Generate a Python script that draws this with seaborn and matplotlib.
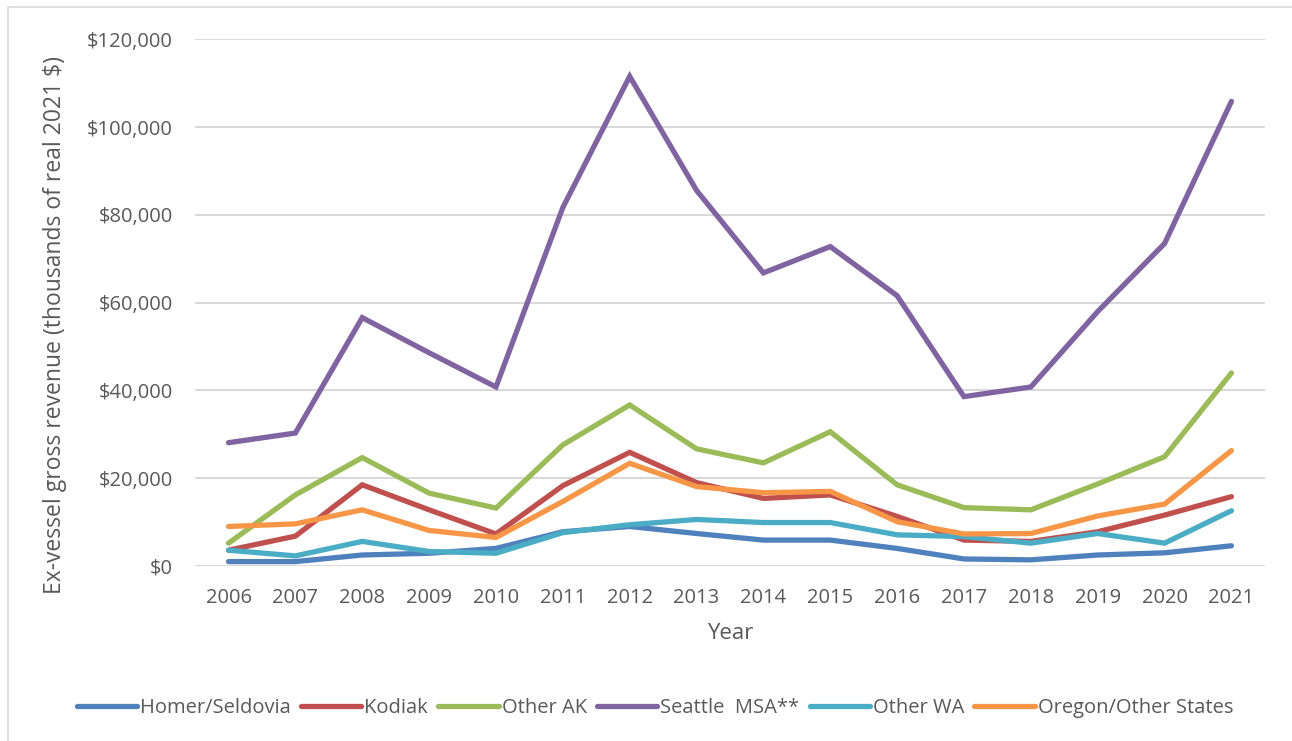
import numpy as np
import pandas as pd
import seaborn as sns
from matplotlib import pyplot as plt
from matplotlib.ticker import FuncFormatter
from matplotlib.patches import Rectangle

## values (thousands of real 2021 $)
years = list(range(2006, 2022))
homer = [1.0, 1.0, 2.5, 2.9, 4.0, 7.8, 9.0, 7.4, 5.9, 5.9, 4.0, 1.6, 1.4, 2.5, 3.0, 4.6]
kodiak = [3.6, 6.8, 18.5, 12.8, 7.3, 18.3, 25.9, 19.0, 15.4, 16.2, 11.3, 5.9, 5.6, 7.8, 11.6, 15.8]
other_ak = [5.2, 16.2, 24.7, 16.6, 13.2, 27.6, 36.7, 26.7, 23.5, 30.6, 18.5, 13.3, 12.8, 18.7, 24.9, 44.0]
seattle = [28.1, 30.3, 56.6, 48.6, 40.8, 81.7, 111.6, 85.6, 66.8, 72.8, 61.6, 38.6, 40.8, 58.0, 73.5, 105.9]
other_wa = [3.6, 2.3, 5.6, 3.3, 2.9, 7.6, 9.4, 10.6, 9.9, 9.9, 7.1, 6.7, 5.2, 7.4, 5.2, 12.6]
oregon = [9.0, 9.6, 12.8, 8.1, 6.5, 14.7, 23.4, 18.1, 16.7, 17.0, 10.1, 7.3, 7.4, 11.4, 14.1, 26.3]

series = ['Homer/Seldovia', 'Kodiak', 'Other AK', 'Seattle  MSA**', 'Other WA', 'Oregon/Other States']
colors = ['#4F81BD', '#C0504D', '#9BBB59', '#8064A2', '#4BACC6', '#F79646']

rows = []
for name, vals in zip(series, [homer, kodiak, other_ak, seattle, other_wa, oregon]):
    for y, v in zip(years, vals):
        rows.append({'Year': y, 'value': v * 1000, 'series': name})
df = pd.DataFrame(rows)

sns.set_style("white")
plt.rcParams['font.family'] = ['Open Sans', 'DejaVu Sans']

fig = plt.figure(figsize=(12.92, 7.41), dpi=100)
ax = fig.add_axes([0.151, 0.2362, 0.828, 0.7105])

sns.lineplot(data=df, x='Year', y='value', hue='series', hue_order=series,
             palette=colors, linewidth=3.8, ax=ax, legend=False,
             solid_capstyle='round', solid_joinstyle='miter')

ax.set_xlim(2005.5, 2021.5)
ax.set_ylim(0, 120000)
ax.set_yticks(np.arange(0, 120001, 20000))
ax.set_xticks(years)
ax.yaxis.set_major_formatter(FuncFormatter(lambda v, p: '${:,.0f}'.format(v)))
ax.grid(axis='y', color='#d9d9d9', linewidth=1.5)
ax.set_axisbelow(True)
for s in ax.spines.values():
    s.set_visible(False)
ax.tick_params(axis='both', length=0, labelsize=14.5, colors='#595959')
ax.tick_params(axis='y', pad=16)
ax.tick_params(axis='x', pad=16)
ax.set_xlabel('Year', fontsize=16, color='#595959', labelpad=11)
ax.set_ylabel('Ex-vessel gross revenue (thousands of real 2021 $)', fontsize=16.5,
              color='#595959')
ax.yaxis.set_label_coords(-0.12, 0.458)

handles = [plt.Line2D([], [], color=c, linewidth=3.8, solid_capstyle='round') for c in colors]
fig.legend(handles, series, loc='center', bbox_to_anchor=(0.507, 0.045), ncol=6,
           frameon=False, fontsize=14.5, handlelength=3.0, handletextpad=0.15,
           columnspacing=0.5, labelcolor='#595959')

## light chart border like the excel chart area
fig.patches.append(Rectangle((0.006, -0.05), 1.2, 1.04, transform=fig.transFigure,
                             fill=False, edgecolor='#d9d9d9', linewidth=1.2))

plt.savefig('out.png', dpi=100)
